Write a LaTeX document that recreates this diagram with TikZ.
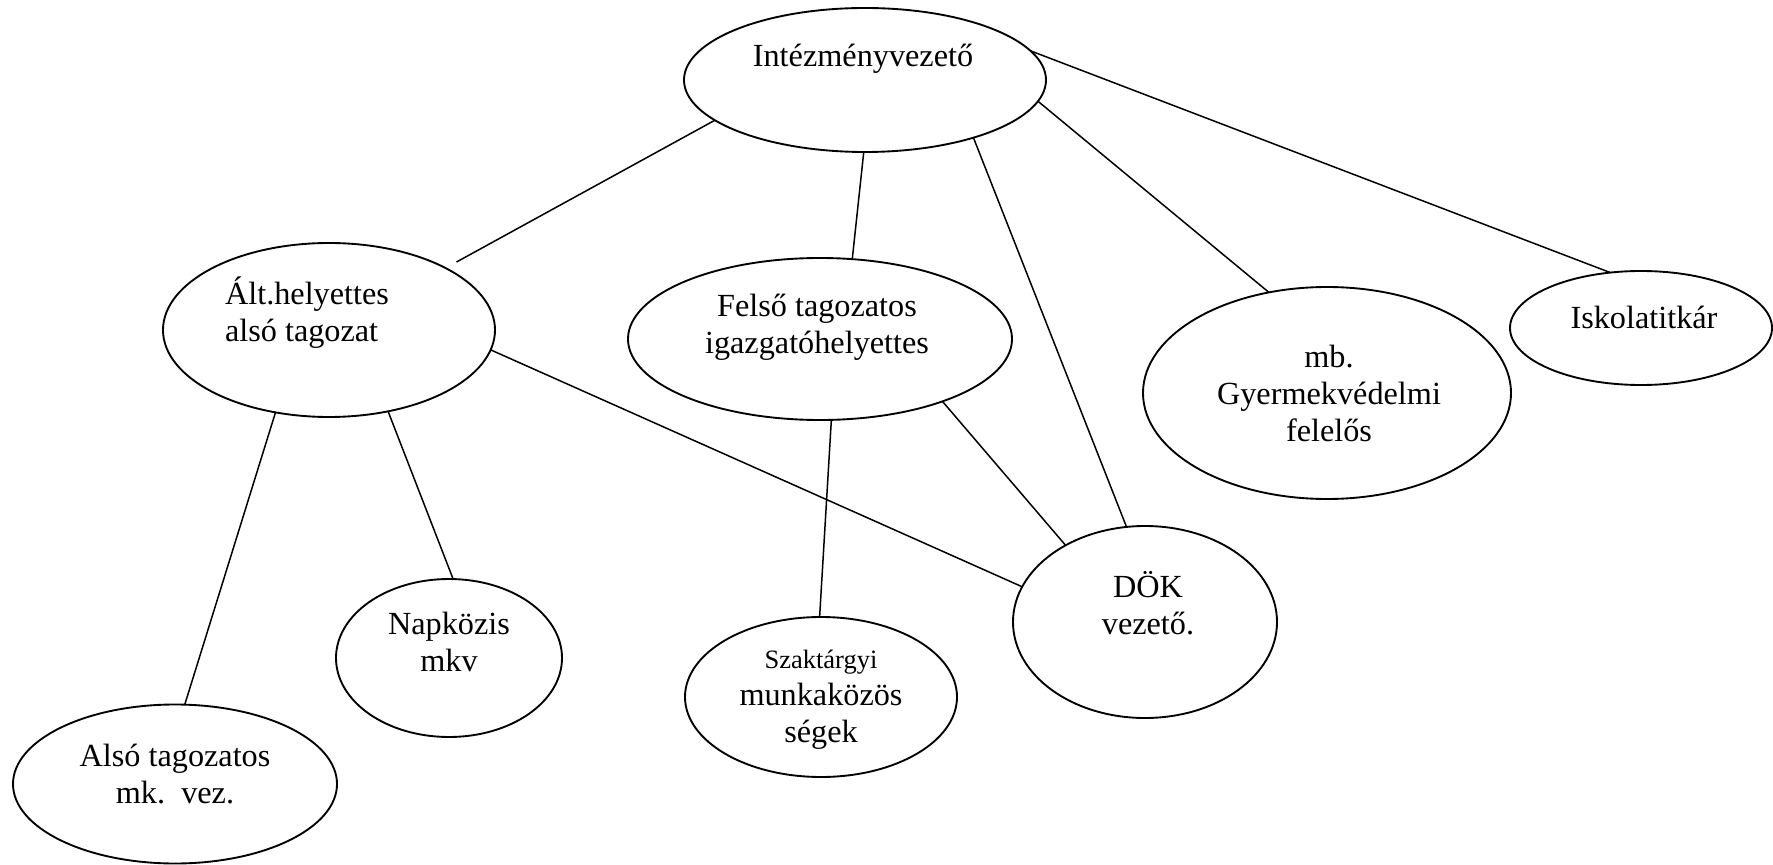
\documentclass[tikz,border=0pt]{standalone}
\usepackage{fontspec}
\setmainfont{Liberation Serif}
\usetikzlibrary{shapes.geometric}
\begin{document}
\begin{tikzpicture}[x=0.4pt,y=-0.4pt,
  ell/.style={draw,ellipse,line width=0.75pt,inner sep=0pt,outer sep=0pt},
  txt/.style={inner sep=0pt,align=center,font=\fontsize{12.9}{14.8}\selectfont},
  conn/.style={line width=0.6pt}]
\useasboundingbox (0,0) rectangle (1773,865);
% ellipses
\node[ell,minimum width=144.8pt,minimum height=57.6pt] (intez) at (865,80) {};
\node[ell,minimum width=132.8pt,minimum height=69.6pt] (alt) at (329,330) {};
\node[ell,minimum width=153.6pt,minimum height=64.8pt] (felso) at (820,339) {};
\node[ell,minimum width=147.2pt,minimum height=84.8pt] (gyer) at (1327,393) {};
\node[ell,minimum width=104.8pt,minimum height=45.6pt] (isk) at (1641,328) {};
\node[ell,minimum width=105.6pt,minimum height=76.8pt] (dok) at (1145,622) {};
\node[ell,minimum width=90.4pt,minimum height=63.2pt] (nap) at (449,658) {};
\node[ell,minimum width=108.8pt,minimum height=64pt] (szak) at (821,697) {};
\node[ell,minimum width=129.6pt,minimum height=63.6pt] (also) at (175,784) {};
% texts
\node[txt] (intezT) at (863,59) {Intézményvezető};
\node[txt,align=left] (altT) at (307,313) {Ált.helyettes\\alsó tagozat};
\node[txt] (felsoT) at (817,327) {Felső tagozatos\\igazgatóhelyettes};
\node[txt] (gyerT) at (1329,393) {mb.\\Gyermekvédelmi\\felelős};
\node[txt] (iskT) at (1644,317) {Iskolatitkár};
\node[txt] (dokT) at (1148,603) {DÖK\\vezető.};
\node[txt] (napT) at (449,642) {Napközis\\mkv};
\node[txt] (szakT) at (821,700) {{\fontsize{10.6}{14.8}\selectfont Szaktárgyi}\\munkaközös\\ségek};
\node[txt] (alsoT) at (175,774) {Alsó tagozatos\\mk.\ \ vez.};
% connectors
\draw[conn,shorten >=5pt] (intez.195.3) -- (alt.28);
\draw[conn] (intez.269) -- (felso.68.8);
\draw[conn] (intez.-28.1) -- (dok.101.4);
\draw[conn] (intez.-7.2) -- (gyer.120.4);
\draw[conn] (intez.10.2) -- (isk.119.9);
\draw[conn] (alt.237.1) -- (also.83);
\draw[conn] (alt.-54.5) -- (nap.87.3);
\draw[conn] (alt.-7.2) -- (dok.164.7);
\draw[conn] (felso.-82.1) -- (szak.91.3);
\draw[conn] (felso.-27.3) -- (dok.136.1);
\end{tikzpicture}
\end{document}
